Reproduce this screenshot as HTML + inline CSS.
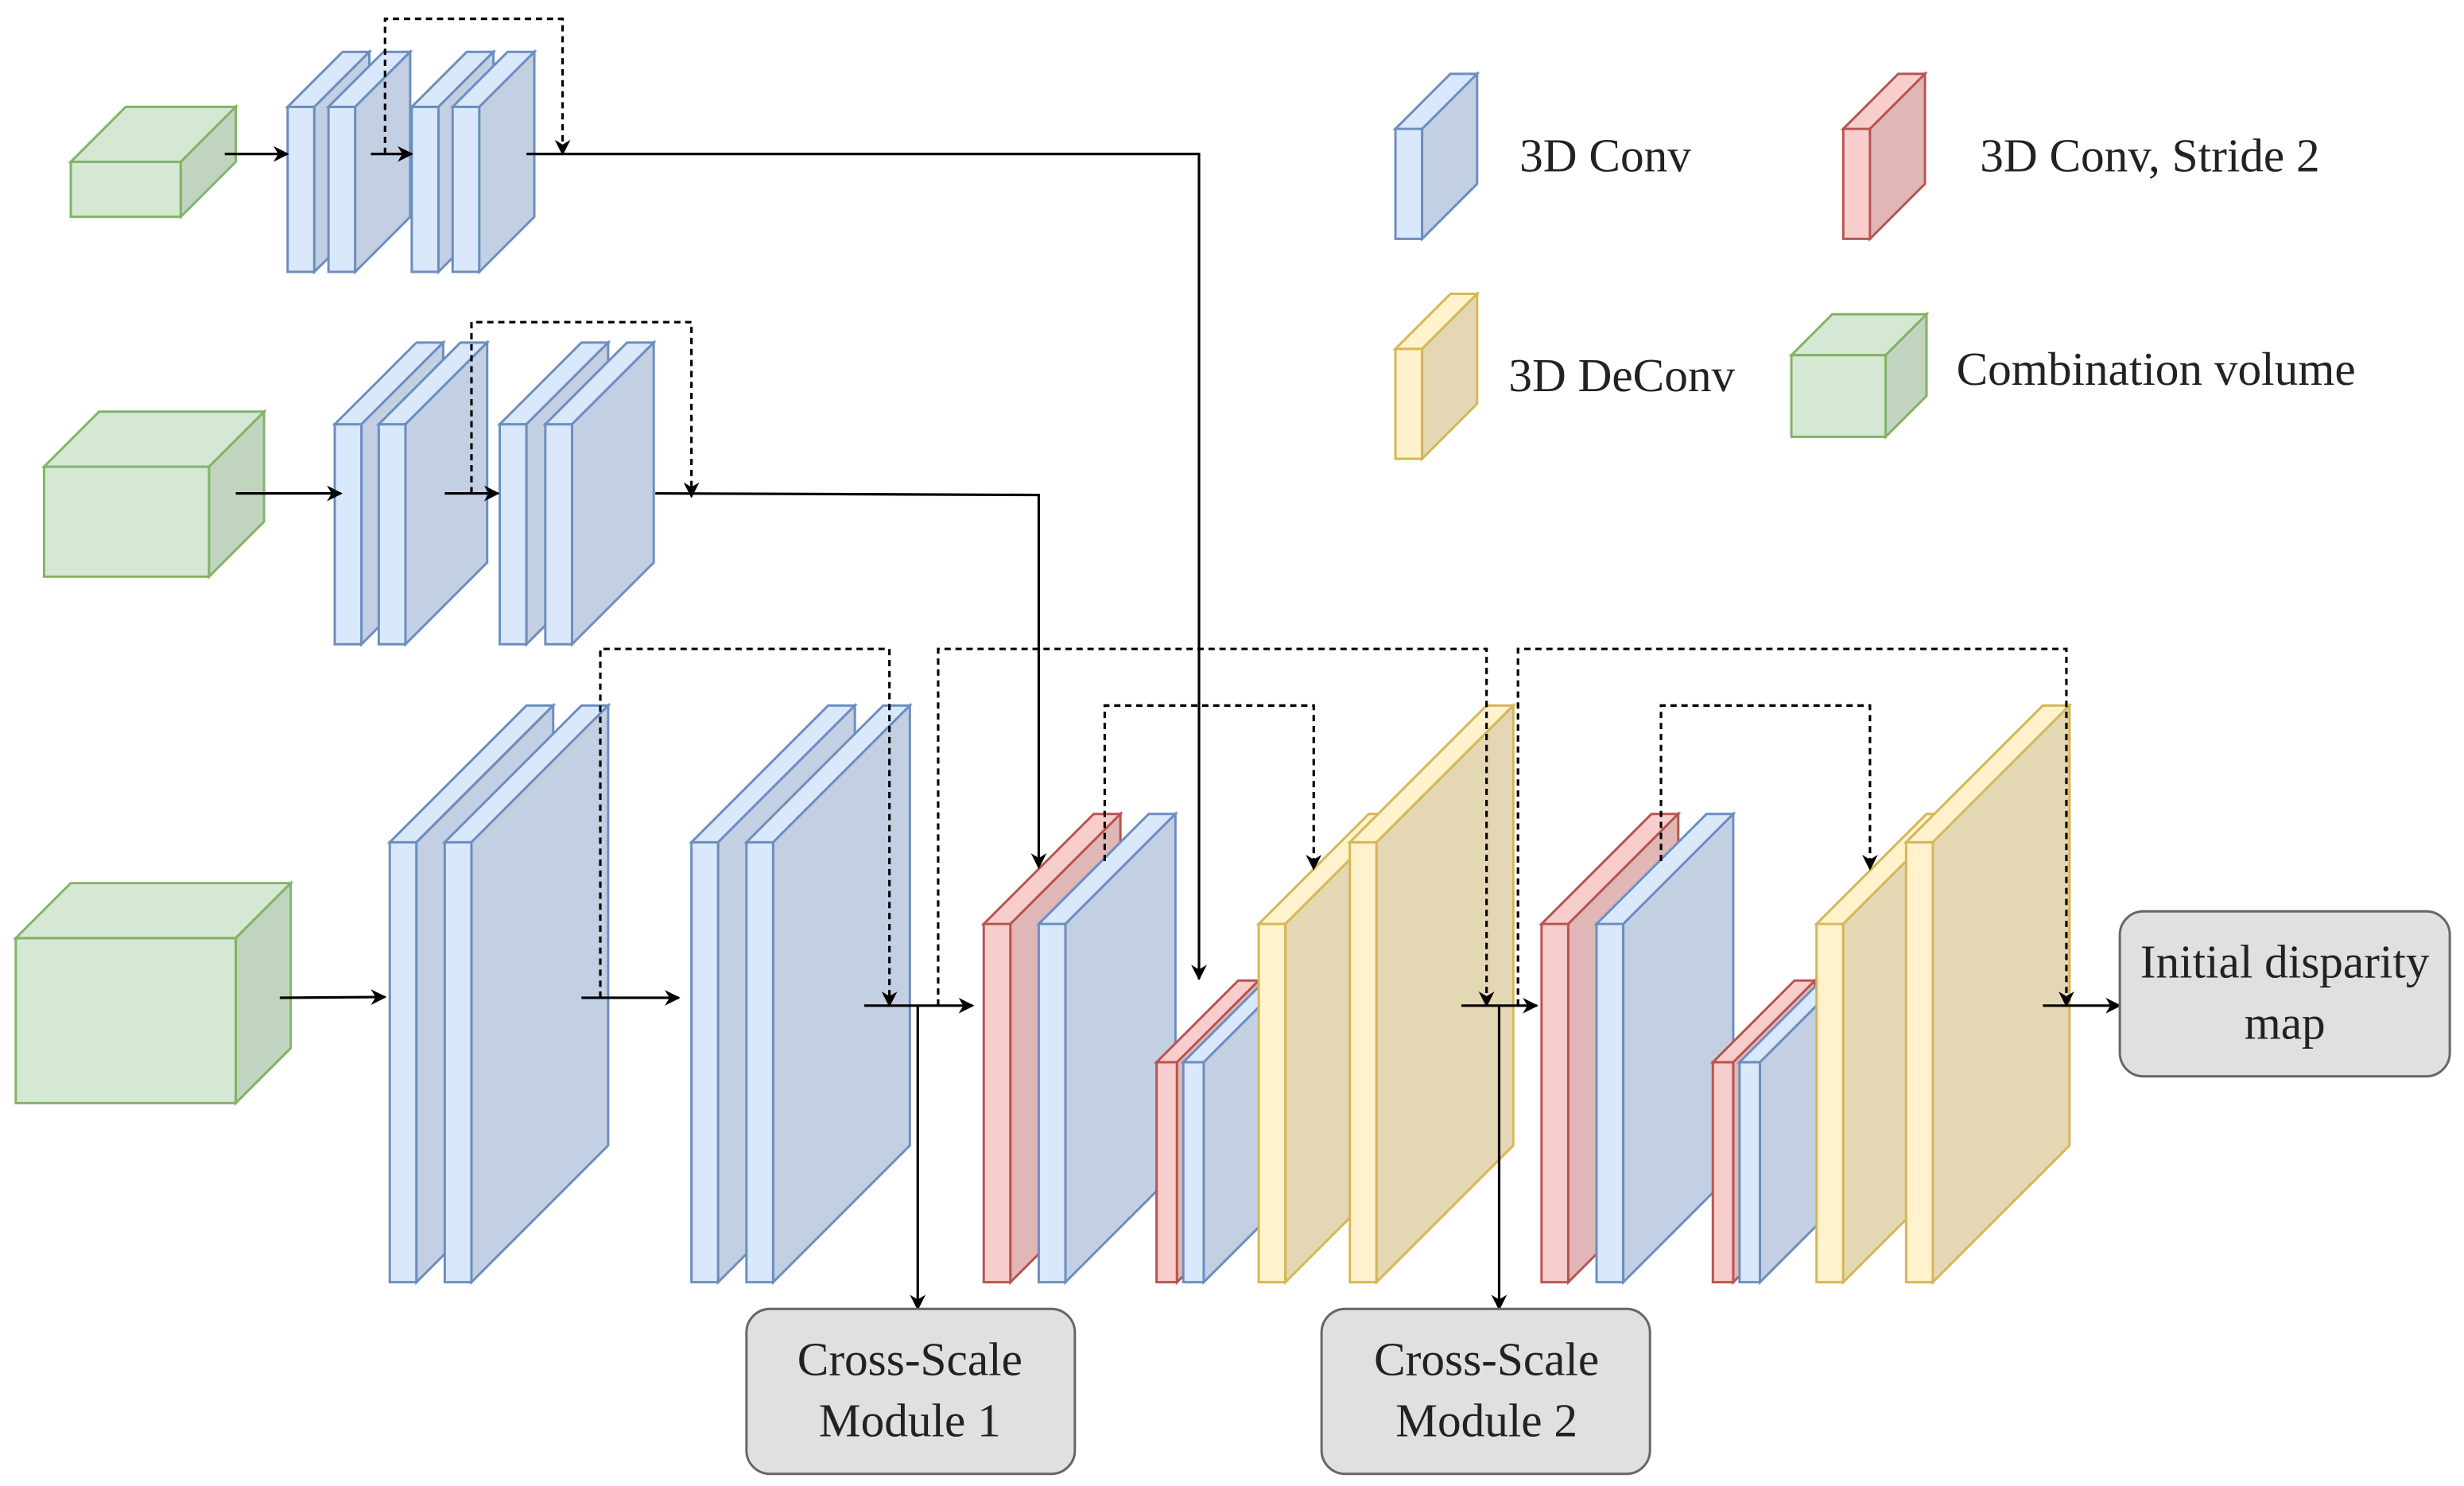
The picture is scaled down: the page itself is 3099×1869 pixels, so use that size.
<!DOCTYPE html>
<html><head><meta charset="utf-8"><style>
html,body{margin:0;padding:0;background:#fff;}
svg{display:block;}
text{font-family:"Liberation Serif",serif;fill:#222;}
.b{fill:#dae8fc;stroke:#6c8ebf}.bs{fill:#c3cfe2;stroke:#6c8ebf}
.g{fill:#d5e8d4;stroke:#82b366}.gs{fill:#c0d4bf;stroke:#82b366}
.r{fill:#f8cecc;stroke:#b85450}.rs{fill:#e0b7b6;stroke:#b85450}
.y{fill:#fff2cc;stroke:#d6b656}.ys{fill:#e4d7b3;stroke:#d6b656}
</style></head><body>
<svg width="3099" height="1869" viewBox="0 0 1568 945.7" xmlns="http://www.w3.org/2000/svg">
<defs>
<marker id="a" markerWidth="10" markerHeight="10" refX="9" refY="5" orient="auto" markerUnits="userSpaceOnUse">
<path d="M0,0 L10,5 L0,10 L3,5 z" fill="#000"/></marker>
</defs>
<g stroke-width="1.5">
<rect class="g" x="45" y="103" width="70" height="35"/><polygon class="g" points="45,103 80,68 150,68 115,103"/><polygon class="gs" points="115,103 150,68 150,103 115,138"/>
<rect class="b" x="183" y="68" width="17" height="105"/><polygon class="b" points="183,68 218,33 235,33 200,68"/><polygon class="bs" points="200,68 235,33 235,138 200,173"/>
<rect class="b" x="209" y="68" width="17" height="105"/><polygon class="b" points="209,68 244,33 261,33 226,68"/><polygon class="bs" points="226,68 261,33 261,138 226,173"/>
<rect class="b" x="262" y="68" width="17" height="105"/><polygon class="b" points="262,68 297,33 314,33 279,68"/><polygon class="bs" points="279,68 314,33 314,138 279,173"/>
<rect class="b" x="288" y="68" width="17" height="105"/><polygon class="b" points="288,68 323,33 340,33 305,68"/><polygon class="bs" points="305,68 340,33 340,138 305,173"/>

<rect class="g" x="28" y="297" width="105" height="70"/><polygon class="g" points="28,297 63,262 168,262 133,297"/><polygon class="gs" points="133,297 168,262 168,332 133,367"/>
<rect class="b" x="213" y="270" width="17" height="140"/><polygon class="b" points="213,270 265,218 282,218 230,270"/><polygon class="bs" points="230,270 282,218 282,358 230,410"/>
<rect class="b" x="241" y="270" width="17" height="140"/><polygon class="b" points="241,270 293,218 310,218 258,270"/><polygon class="bs" points="258,270 310,218 310,358 258,410"/>
<rect class="b" x="318" y="270" width="17" height="140"/><polygon class="b" points="318,270 370,218 387,218 335,270"/><polygon class="bs" points="335,270 387,218 387,358 335,410"/>
<rect class="b" x="347" y="270" width="17" height="140"/><polygon class="b" points="347,270 399,218 416,218 364,270"/><polygon class="bs" points="364,270 416,218 416,358 364,410"/>

<rect class="g" x="10" y="597" width="140" height="105"/><polygon class="g" points="10,597 45,562 185,562 150,597"/><polygon class="gs" points="150,597 185,562 185,667 150,702"/>
<rect class="b" x="248" y="536" width="17" height="280"/><polygon class="b" points="248,536 335,449 352,449 265,536"/><polygon class="bs" points="265,536 352,449 352,729 265,816"/>
<rect class="b" x="283" y="536" width="17" height="280"/><polygon class="b" points="283,536 370,449 387,449 300,536"/><polygon class="bs" points="300,536 387,449 387,729 300,816"/>
<rect class="b" x="440" y="536" width="17" height="280"/><polygon class="b" points="440,536 527,449 544,449 457,536"/><polygon class="bs" points="457,536 544,449 544,729 457,816"/>
<rect class="b" x="475" y="536" width="17" height="280"/><polygon class="b" points="475,536 562,449 579,449 492,536"/><polygon class="bs" points="492,536 579,449 579,729 492,816"/>

<rect class="r" x="626" y="588" width="17" height="228"/><polygon class="r" points="626,588 696,518 713,518 643,588"/><polygon class="rs" points="643,588 713,518 713,746 643,816"/>
<rect class="b" x="661" y="588" width="17" height="228"/><polygon class="b" points="661,588 731,518 748,518 678,588"/><polygon class="bs" points="678,588 748,518 748,746 678,816"/>
<rect class="r" x="736" y="676" width="13" height="140"/><polygon class="r" points="736,676 788,624 801,624 749,676"/><polygon class="rs" points="749,676 801,624 801,764 749,816"/>
<rect class="b" x="753" y="676" width="13" height="140"/><polygon class="b" points="753,676 805,624 818,624 766,676"/><polygon class="bs" points="766,676 818,624 818,764 766,816"/>
<rect class="y" x="801" y="588" width="17" height="228"/><polygon class="y" points="801,588 871,518 888,518 818,588"/><polygon class="ys" points="818,588 888,518 888,746 818,816"/>
<rect class="y" x="859" y="536" width="17" height="280"/><polygon class="y" points="859,536 946,449 963,449 876,536"/><polygon class="ys" points="876,536 963,449 963,729 876,816"/>

<rect class="r" x="981" y="588" width="17" height="228"/><polygon class="r" points="981,588 1051,518 1068,518 998,588"/><polygon class="rs" points="998,588 1068,518 1068,746 998,816"/>
<rect class="b" x="1016" y="588" width="17" height="228"/><polygon class="b" points="1016,588 1086,518 1103,518 1033,588"/><polygon class="bs" points="1033,588 1103,518 1103,746 1033,816"/>
<rect class="r" x="1090" y="676" width="13" height="140"/><polygon class="r" points="1090,676 1142,624 1155,624 1103,676"/><polygon class="rs" points="1103,676 1155,624 1155,764 1103,816"/>
<rect class="b" x="1107" y="676" width="13" height="140"/><polygon class="b" points="1107,676 1159,624 1172,624 1120,676"/><polygon class="bs" points="1120,676 1172,624 1172,764 1120,816"/>
<rect class="y" x="1156" y="588" width="17" height="228"/><polygon class="y" points="1156,588 1226,518 1243,518 1173,588"/><polygon class="ys" points="1173,588 1243,518 1243,746 1173,816"/>
<rect class="y" x="1213" y="536" width="17" height="280"/><polygon class="y" points="1213,536 1300,449 1317,449 1230,536"/><polygon class="ys" points="1230,536 1317,449 1317,729 1230,816"/>

<rect class="b" x="888" y="82" width="17" height="70"/><polygon class="b" points="888,82 923,47 940,47 905,82"/><polygon class="bs" points="905,82 940,47 940,117 905,152"/>
<rect class="r" x="1173" y="82" width="17" height="70"/><polygon class="r" points="1173,82 1208,47 1225,47 1190,82"/><polygon class="rs" points="1190,82 1225,47 1225,117 1190,152"/>
<rect class="y" x="888" y="222" width="17" height="70"/><polygon class="y" points="888,222 923,187 940,187 905,222"/><polygon class="ys" points="905,222 940,187 940,257 905,292"/>
<rect class="g" x="1140" y="226" width="60" height="52"/><polygon class="g" points="1140,226 1166,200 1226,200 1200,226"/><polygon class="gs" points="1200,226 1226,200 1226,252 1200,278"/>
</g>
<g fill="none" stroke="#000" stroke-width="1.6">
<path d="M143,98 H183" marker-end="url(#a)"/>
<path d="M236,98 H262" marker-end="url(#a)"/>
<path d="M335,98 H763 V623" marker-end="url(#a)"/>
<path d="M150,314 H217" marker-end="url(#a)"/>
<path d="M283,314 H317" marker-end="url(#a)"/>
<path d="M417,314 L661,315 V552" marker-end="url(#a)"/>
<path d="M178,635 L245,634.5" marker-end="url(#a)"/>
<path d="M370,635 H432" marker-end="url(#a)"/>
<path d="M550,640 H619" marker-end="url(#a)"/>
<path d="M584,640 V833" marker-end="url(#a)"/>
<path d="M930,640 H978" marker-end="url(#a)"/>
<path d="M954,640 V833" marker-end="url(#a)"/>
<path d="M1300,640 H1349" marker-end="url(#a)"/>
<g stroke-dasharray="4,3">
<path d="M245,98 V12 H358 V98" marker-end="url(#a)"/>
<path d="M300,314 V205 H440 V316" marker-end="url(#a)"/>
<path d="M382,635 V413 H566 V640" marker-end="url(#a)"/>
<path d="M597,640 V413 H946 V640" marker-end="url(#a)"/>
<path d="M703,548 V449 H836 V553" marker-end="url(#a)"/>
<path d="M966,640 V413 H1315 V640" marker-end="url(#a)"/>
<path d="M1057,548 V449 H1190 V553" marker-end="url(#a)"/>
</g>
</g>
<g fill="#e0e0e0" stroke="#666" stroke-width="1.5">
<rect x="1349" y="580" width="210" height="105" rx="15"/>
<rect x="475" y="833" width="209" height="105" rx="15"/>
<rect x="841" y="833" width="209" height="105" rx="15"/>
</g>
<g font-size="30" text-anchor="middle" fill="#333">
<text x="1454" y="622">Initial disparity</text><text x="1454" y="661">map</text>
<text x="579" y="875">Cross-Scale</text><text x="579" y="914">Module 1</text>
<text x="946" y="875">Cross-Scale</text><text x="946" y="914">Module 2</text>
</g>
<g font-size="30">
<text x="967" y="109">3D Conv</text>
<text x="1260" y="109">3D Conv, Stride 2</text>
<text x="960" y="249">3D DeConv</text>
<text x="1245" y="245">Combination volume</text>
</g>
</svg>
</body></html>
